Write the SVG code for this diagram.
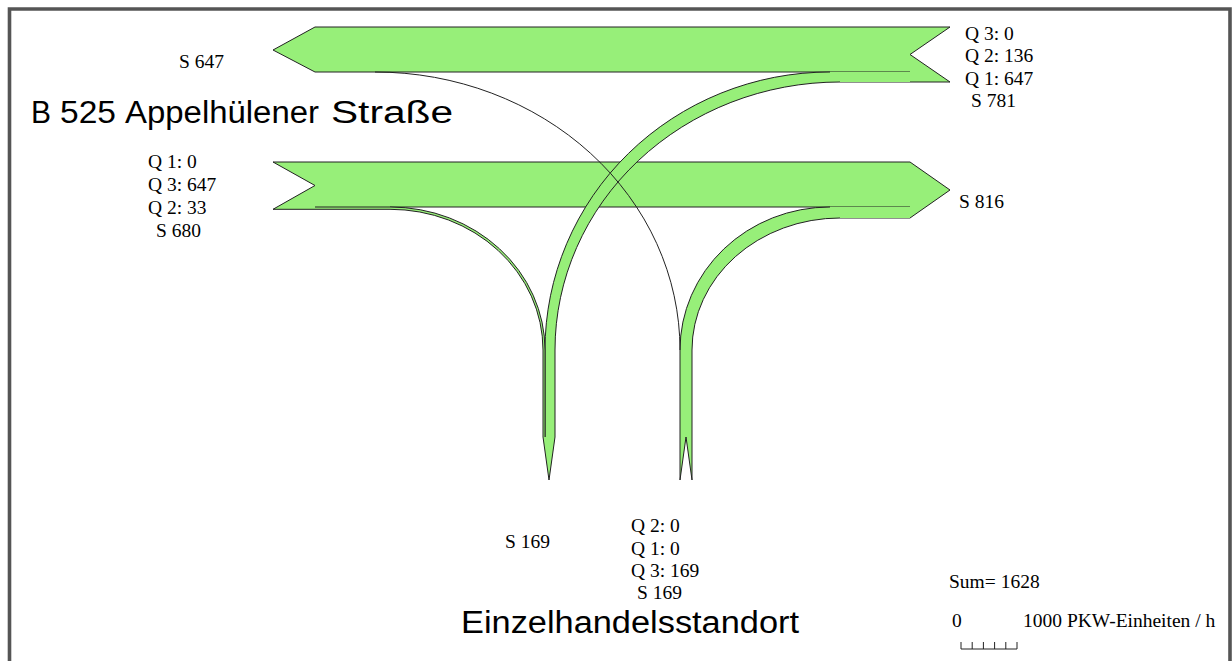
<svg xmlns="http://www.w3.org/2000/svg" width="1232" height="661" viewBox="0 0 1232 661">
<style>
.fill{fill:#97EF79;stroke:none}
.edge{fill:none;stroke:#222;stroke-width:1}
.lbl{font-family:"Liberation Serif","Times New Roman",serif;font-size:19.5px;fill:#000}
.title{font-family:"Liberation Sans",Arial,sans-serif;fill:#000}
</style>
<rect x="0" y="0" width="1232" height="661" fill="#fff"/>
<path d="M9.5,670 L9.5,9 L1230,9 L1230,670" fill="none" stroke="#555" stroke-width="3.6"/>

<g id="node-b525-west">
<path class="fill" d="M273,50 L315,27 L950,27 L910,54.5 L950,82 L840,82 L840,72 L315,72 Z"/>
<path class="edge" d="M315,72 L273,50 L315,27 L950,27 L910,54.5 L950,82 L840,82"/>
<path class="edge" d="M315,72 L910,72"/>
</g>

<g id="node-b525-east">
<path class="fill" d="M273,162 L910,162 L950,190 L910,218 L840,218 L840,207 L390,207 L390,209.3 L273,209.3 L315,185.5 Z"/>
<path class="edge" d="M273,209.3 L315,185.5 L273,162 L910,162 L950,190 L910,218 L840,218"/>
<path class="edge" d="M315,207 L910,207"/>
</g>

<g id="connectors">
<path class="fill" d="M910,72 L830,72 A285,278 0 0 0 545,350 L545,437 L555,437 L555,350 A285,268 0 0 1 840,82 L910,82 Z"/>
<path class="edge" d="M830,72 A285,278 0 0 0 545,350 L545,437 M555,437 L555,350 A285,268 0 0 1 840,82"/>
<path class="fill" d="M390,207 A155,143 0 0 1 545,350 L545,437 L543,437 L543,350 A153,140.7 0 0 0 390,209.3 Z"/>
<path class="edge" d="M390,207 A155,143 0 0 1 545,350 L545,437 M273,209.3 L390,209.3 A153,140.7 0 0 1 543,350 L543,437"/>
<path class="fill" d="M680,480 L686,437 L692,480 L692,350 A148,132 0 0 1 840,218 L910,218 L910,207 L830,207 A150,143 0 0 0 680,350 Z"/>
<path class="edge" d="M680,480 L686,437 L692,480 L692,350 A148,132 0 0 1 840,218 M680,480 L680,350 A150,143 0 0 1 830,207"/>
<path class="edge" d="M375,72 A305,278 0 0 1 680,350"/>
</g>

<g id="node-south-exit">
<path class="fill" d="M543,437 L549,480 L555,437 Z"/>
<path class="edge" d="M543,437 L549,480 L555,437"/>
</g>

<g id="labels">
<text class="lbl" x="179" y="68">S 647</text>
<text class="lbl" x="965" y="40">Q 3: 0</text>
<text class="lbl" x="965" y="62">Q 2: 136</text>
<text class="lbl" x="965" y="85">Q 1: 647</text>
<text class="lbl" x="971" y="107">S 781</text>
<text class="lbl" x="148" y="168">Q 1: 0</text>
<text class="lbl" x="148" y="191">Q 3: 647</text>
<text class="lbl" x="148" y="214">Q 2: 33</text>
<text class="lbl" x="156" y="237">S 680</text>
<text class="lbl" x="959" y="208">S 816</text>
<text class="lbl" x="505" y="548">S 169</text>
<text class="lbl" x="631" y="532">Q 2: 0</text>
<text class="lbl" x="631" y="555">Q 1: 0</text>
<text class="lbl" x="631" y="577">Q 3: 169</text>
<text class="lbl" x="637" y="599">S 169</text>
<g class="title" font-size="31">
<text x="31" y="123" textLength="20" lengthAdjust="spacingAndGlyphs">B</text>
<text x="60" y="123" textLength="56" lengthAdjust="spacingAndGlyphs">525</text>
<text x="125" y="123" textLength="194" lengthAdjust="spacingAndGlyphs">Appelhülener</text>
<text x="331" y="123" textLength="122" lengthAdjust="spacingAndGlyphs">Straße</text>
</g>
<text class="title" x="461" y="633" font-size="31" textLength="338" lengthAdjust="spacingAndGlyphs">Einzelhandelsstandort</text>
</g>

<g id="legend">
<text class="lbl" x="949" y="588">Sum= 1628</text>
<text class="lbl" x="952" y="627">0</text>
<text class="lbl" x="1023" y="627">1000 PKW-Einheiten / h</text>
<path class="edge" d="M961,642 L961,649 L1017,649 L1017,642 M972.2,642 L972.2,649 M983.4,642 L983.4,649 M994.6,642 L994.6,649 M1005.8,642 L1005.8,649"/>
</g>
</svg>
